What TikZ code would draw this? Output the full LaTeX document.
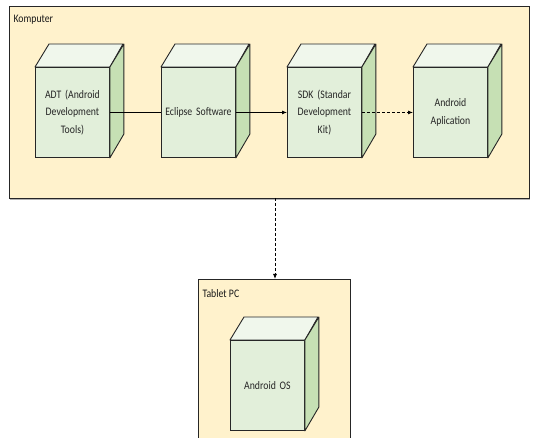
\documentclass[tikz,border=0pt]{standalone}
\usepackage{fontspec}
\setmainfont{Carlito}[FakeStretch=0.85]
\usetikzlibrary{arrows.meta}
\definecolor{frameFill}{HTML}{FFF2CC}
\definecolor{cubeFront}{HTML}{E2EFDA}
\definecolor{cubeTop}{HTML}{F0F7EC}
\definecolor{cubeSide}{HTML}{C6E0B4}
\definecolor{lineDark}{HTML}{262626}
\newcommand{\cubefont}{\fontsize{11.5}{17.5}\selectfont\fontdimen2\font=2.3pt\relax}
\tikzset{
  frame/.style={draw=lineDark, fill=frameFill, line width=0.8pt},
  cubefront/.style={draw=lineDark, fill=cubeFront, line width=0.9pt, minimum width=74pt, minimum height=90pt, text width=72pt, inner sep=0pt, align=center, font=\cubefont, text=black!85},
  cubeface/.style={draw=lineDark, line width=0.9pt, line join=round},
  conn/.style={draw=black, line width=0.8pt},
  arr/.style={-{Latex[length=5pt,width=4pt]}},
  lbl/.style={anchor=west, font=\cubefont, text=black!90},
}
\newcommand{\cubesides}[1]{%
  \path[cubeface, fill=cubeTop] (#1.north west) -- ++(14,-23) -- ++(74,0) -- (#1.north east) -- cycle;
  \path[cubeface, fill=cubeSide] (#1.north east) -- ++(14,-23) -- ++(0,90) -- (#1.south east) -- cycle;
}
\begin{document}
\begin{tikzpicture}[x=1pt,y=-1pt]
\useasboundingbox (0,0) rectangle (533,438);
% Komputer frame
\fill[gray!60] (10,198) rectangle (530,200.5);
\node[frame, minimum width=520pt, minimum height=192pt, anchor=north west, inner sep=0pt] (komp) at (9,6) {};
\node[lbl] (kompl) at (10,20) {Komputer};
% Tablet frame
\node[frame, minimum width=152pt, minimum height=170pt, anchor=north west, inner sep=0pt] (tab) at (198,279) {};
\node[lbl] (tabl) at (199,294) {Tablet PC};
% cubes
\node[cubefront, anchor=north west] (adt) at (35,67) {ADT (Android\\Development\\Tools)};
\cubesides{adt}
\node[cubefront, anchor=north west] (ecl) at (161,67) {Eclipse Software};
\cubesides{ecl}
\node[cubefront, anchor=north west] (sdk) at (287,67) {SDK (Standar\\Development\\Kit)};
\cubesides{sdk}
\node[cubefront, anchor=north west] (app) at (413,67) {Android\\Aplication};
\cubesides{app}
\node[cubefront, anchor=north west] (os) at (230,340) {Android OS};
\cubesides{os}
% connectors
\draw[conn] (adt.east) -- (ecl.west);
\draw[conn, arr] (ecl.east) -- (sdk.west);
\draw[conn, arr, dashed, dash pattern=on 3pt off 2pt] (sdk.east) -- (app.west);
\coordinate (kb) at (275,198);
\coordinate (tt) at (275,279);
\draw[conn, arr, dash pattern=on 3pt off 2pt] (kb) -- (tt);
\end{tikzpicture}
\end{document}
